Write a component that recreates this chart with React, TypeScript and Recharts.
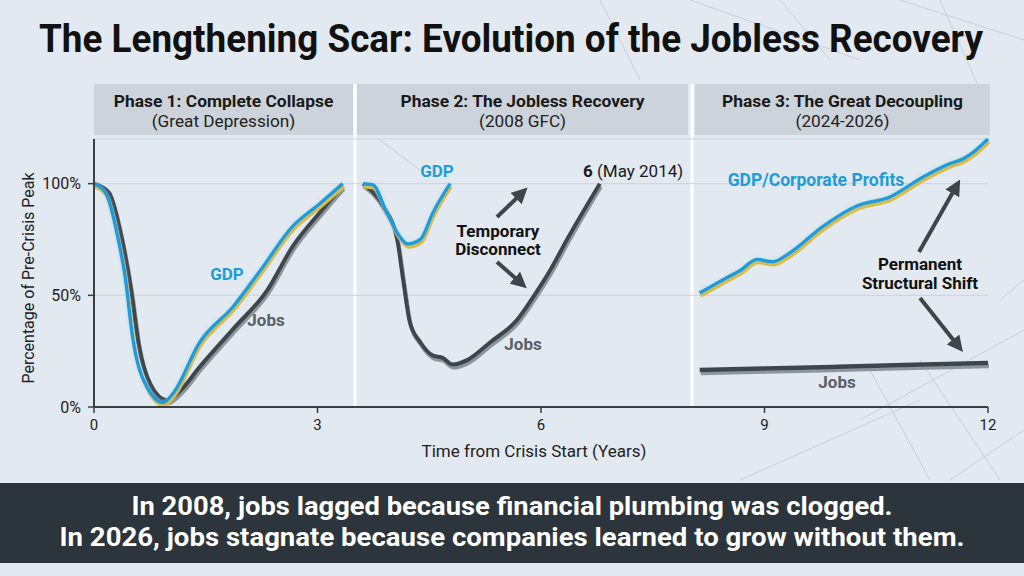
import React from "react";
import { LineChart, Line, XAxis, YAxis, CartesianGrid } from "recharts";

// axis ticks
const xTicks = [0, 3, 6, 9, 12];
const yTicks = [0, 50, 100];

// Phase 1: Great Depression (years from crisis start, % of pre-crisis peak)
const p1Gdp = [
  { x: 0, y: 100 }, { x: 0.17, y: 95 }, { x: 0.32, y: 76 }, { x: 0.42, y: 58 },
  { x: 0.52, y: 31 }, { x: 0.71, y: 9 }, { x: 0.93, y: 2 }, { x: 1.06, y: 6 },
  { x: 1.42, y: 29 }, { x: 1.87, y: 45 }, { x: 2.23, y: 61 }, { x: 2.67, y: 81 },
  { x: 3.03, y: 91 }, { x: 3.34, y: 100 },
];
const p1Jobs = [
  { x: 0, y: 100 }, { x: 0.2, y: 96 }, { x: 0.37, y: 76 }, { x: 0.5, y: 52 },
  { x: 0.6, y: 28 }, { x: 0.76, y: 10 }, { x: 0.98, y: 3 }, { x: 1.15, y: 7 },
  { x: 1.42, y: 18 }, { x: 1.87, y: 35 }, { x: 2.32, y: 52 }, { x: 2.67, y: 72 },
  { x: 3.03, y: 87 }, { x: 3.34, y: 99 },
];

// Phase 2: 2008 GFC
const p2Gdp = [
  { x: 3.61, y: 100 }, { x: 3.74, y: 99.5 }, { x: 3.93, y: 87 }, { x: 4.11, y: 76 },
  { x: 4.21, y: 73 }, { x: 4.38, y: 75 }, { x: 4.55, y: 87 }, { x: 4.78, y: 100 },
];
const p2Jobs = [
  { x: 3.61, y: 100 }, { x: 3.88, y: 90 }, { x: 4.07, y: 75 }, { x: 4.15, y: 57 },
  { x: 4.24, y: 38 }, { x: 4.38, y: 29 }, { x: 4.55, y: 23 }, { x: 4.68, y: 22 },
  { x: 4.81, y: 19 }, { x: 5.01, y: 21 }, { x: 5.32, y: 29 }, { x: 5.68, y: 39 },
  { x: 5.95, y: 52 }, { x: 6.12, y: 61 }, { x: 6.35, y: 75 }, { x: 6.79, y: 100 },
];

// Phase 3: 2024-2026
const p3Gdp = [
  { x: 8.13, y: 51 }, { x: 8.5, y: 58 }, { x: 8.67, y: 61 }, { x: 8.9, y: 66 },
  { x: 9.11, y: 65 }, { x: 9.34, y: 69 }, { x: 9.79, y: 81 }, { x: 10.24, y: 90 },
  { x: 10.68, y: 94 }, { x: 11.13, y: 103 }, { x: 11.49, y: 109 }, { x: 11.66, y: 111 },
  { x: 11.8, y: 114 }, { x: 12, y: 120 },
];
const p3Jobs = [
  { x: 8.13, y: 16.6 }, { x: 9, y: 17.2 }, { x: 10, y: 18 }, { x: 11, y: 18.9 }, { x: 12, y: 19.7 },
];

const phases = [
  { title: "Phase 1: Complete Collapse", sub: "(Great Depression)", x: 94, w: 259 },
  { title: "Phase 2: The Jobless Recovery", sub: "(2008 GFC)", x: 357, w: 331 },
  { title: "Phase 3: The Great Decoupling", sub: "(2024-2026)", x: 695, w: 295 },
];

const BLUE = "#1E9CD8";
const DARK = "#3E464C";
const FONT = "Roboto, 'Noto Sans', sans-serif";

const decoLines = [
  [600, 0, 640, 80], [690, 0, 860, 60], [780, 0, 830, 60], [900, 0, 1024, 40],
  [940, 0, 980, 90], [1000, 300, 1024, 280], [860, 420, 1024, 330], [740, 480, 920, 400],
  [870, 370, 930, 480], [920, 360, 1000, 480], [950, 480, 1024, 430], [380, 140, 420, 170],
];

export default function App() {
  return (
    <div style={{ position: "absolute", left: 0, top: 0, width: 1024, height: 576, background: "#E2E9F0", fontFamily: FONT, overflow: "hidden" }}>
      <style>{`
        .fx-gdp { filter: url(#gdpFx); }
        .fx-jobs { filter: url(#jobsFx); }
      `}</style>
      {/* background, title, panel headers */}
      <svg width={1024} height={576} style={{ position: "absolute", left: 0, top: 0 }}>
        <defs>
          <filter id="gdpFx" filterUnits="userSpaceOnUse" x={0} y={0} width={1024} height={576}>
            <feFlood floodColor="#D6BC48" result="yel" />
            <feComposite in="yel" in2="SourceAlpha" operator="in" result="yelShape" />
            <feOffset in="yelShape" dx={1} dy={3} result="yelOff" />
            <feGaussianBlur in="SourceAlpha" stdDeviation={1.6} result="blur" />
            <feFlood floodColor="#8AD6F4" floodOpacity={0.7} result="glowColor" />
            <feComposite in="glowColor" in2="blur" operator="in" result="glow" />
            <feMerge>
              <feMergeNode in="glow" />
              <feMergeNode in="yelOff" />
              <feMergeNode in="SourceGraphic" />
            </feMerge>
          </filter>
          <filter id="jobsFx" filterUnits="userSpaceOnUse" x={0} y={0} width={1024} height={576}>
            <feFlood floodColor="#8D969C" result="g" />
            <feComposite in="g" in2="SourceAlpha" operator="in" result="gShape" />
            <feOffset in="gShape" dx={1} dy={3} result="gOff" />
            <feMerge>
              <feMergeNode in="gOff" />
              <feMergeNode in="SourceGraphic" />
            </feMerge>
          </filter>
          <marker id="arrowHead" viewBox="0 0 10 10" refX={6} refY={5} markerWidth={4} markerHeight={4} orient="auto">
            <path d="M0,0 L10,5 L0,10 z" fill={DARK} />
          </marker>
        </defs>
        {decoLines.map((l, i) => (
          <line key={i} x1={l[0]} y1={l[1]} x2={l[2]} y2={l[3]} stroke="#C6D0D9" strokeWidth={1} />
        ))}
        <text x={511} y={52} textAnchor="middle" fontSize={38} fontWeight={700} fill="#111" textLength={944} lengthAdjust="spacingAndGlyphs">
          The Lengthening Scar: Evolution of the Jobless Recovery
        </text>
        {phases.map((p) => (
          <g key={p.title}>
            <rect x={p.x} y={84} width={p.w} height={51} fill="#CCD3DA" />
            <text x={p.x + p.w / 2} y={107} textAnchor="middle" fontSize={17.4} fontWeight={700} fill="#1A1A1A">{p.title}</text>
            <text x={p.x + p.w / 2} y={127} textAnchor="middle" fontSize={17.2} fill="#222">{p.sub}</text>
          </g>
        ))}
        <rect x={353.5} y={84} width={3} height={322} fill="#FFFFFF" />
        <rect x={690.5} y={84} width={3} height={322} fill="#FFFFFF" />
      </svg>

      <div style={{ position: "absolute", left: 0, top: 0 }}>
        <LineChart width={1024} height={576} margin={{ top: 139, right: 36, left: 34, bottom: 129 }}>
          <CartesianGrid vertical={false} stroke="#CBD4DC" />
          <XAxis
            dataKey="x"
            type="number"
            domain={[0, 12]}
            ticks={xTicks}
            height={40}
            tick={{ fontSize: 15, fill: "#222", fontFamily: FONT }}
            tickSize={6}
            tickMargin={6}
            axisLine={{ stroke: "#3A3F44", strokeWidth: 2 }}
            tickLine={{ stroke: "#3A3F44", strokeWidth: 1.5 }}
          />
          <YAxis
            type="number"
            domain={[0, 120]}
            ticks={yTicks}
            width={60}
            tickFormatter={(v: number) => `${v}%`}
            tick={{ fontSize: 16, fill: "#222", fontFamily: FONT }}
            tickSize={6}
            tickMargin={7}
            axisLine={{ stroke: "#3A3F44", strokeWidth: 2 }}
            tickLine={{ stroke: "#3A3F44", strokeWidth: 1.5 }}
          />
          <Line className="fx-jobs" data={p1Jobs} dataKey="y" type="monotone" stroke={DARK} strokeWidth={4} dot={false} activeDot={false} isAnimationActive={false} />
          <Line className="fx-gdp" data={p1Gdp} dataKey="y" type="monotone" stroke={BLUE} strokeWidth={3.5} dot={false} activeDot={false} isAnimationActive={false} />
          <Line className="fx-jobs" data={p2Jobs} dataKey="y" type="monotone" stroke={DARK} strokeWidth={4} dot={false} activeDot={false} isAnimationActive={false} />
          <Line className="fx-gdp" data={p2Gdp} dataKey="y" type="monotone" stroke={BLUE} strokeWidth={3.5} dot={false} activeDot={false} isAnimationActive={false} />
          <Line className="fx-jobs" data={p3Jobs} dataKey="y" type="monotone" stroke={DARK} strokeWidth={4.5} dot={false} activeDot={false} isAnimationActive={false} />
          <Line className="fx-gdp" data={p3Gdp} dataKey="y" type="monotone" stroke={BLUE} strokeWidth={3.5} dot={false} activeDot={false} isAnimationActive={false} />
        </LineChart>
      </div>

      {/* annotations, axis titles, bottom banner */}
      <svg width={1024} height={576} style={{ position: "absolute", left: 0, top: 0, pointerEvents: "none" }}>
        <text transform="translate(34,278) rotate(-90)" textAnchor="middle" fontSize={16} fill="#222">Percentage of Pre-Crisis Peak</text>
        <text x={534} y={457} textAnchor="middle" fontSize={17} fill="#222">Time from Crisis Start (Years)</text>

        <text x={227} y={280} textAnchor="middle" fontSize={17} fontWeight={700} fill={BLUE}>GDP</text>
        <text x={266} y={326} textAnchor="middle" fontSize={17} fontWeight={700} fill="#596067">Jobs</text>

        <text x={437} y={177} textAnchor="middle" fontSize={17} fontWeight={700} fill={BLUE}>GDP</text>
        <text x={583} y={177} fontSize={17} fill="#1A1A1A"><tspan fontWeight={700}>6</tspan> (May 2014)</text>
        <text x={498} y={237} textAnchor="middle" fontSize={17} fontWeight={700} fill="#111">Temporary</text>
        <text x={498} y={255} textAnchor="middle" fontSize={17} fontWeight={700} fill="#111">Disconnect</text>
        <line x1={497} y1={217} x2={523} y2={192} stroke={DARK} strokeWidth={4} markerEnd="url(#arrowHead)" />
        <line x1={497} y1={262} x2={522} y2={284} stroke={DARK} strokeWidth={4} markerEnd="url(#arrowHead)" />
        <text x={523} y={350} textAnchor="middle" fontSize={17} fontWeight={700} fill="#596067">Jobs</text>

        <text x={816} y={186} textAnchor="middle" fontSize={17.5} fontWeight={700} fill={BLUE}>GDP/Corporate Profits</text>
        <text x={920} y={270} textAnchor="middle" fontSize={17} fontWeight={700} fill="#111">Permanent</text>
        <text x={920} y={289} textAnchor="middle" fontSize={17} fontWeight={700} fill="#111">Structural Shift</text>
        <line x1={919} y1={252} x2={957} y2={185} stroke={DARK} strokeWidth={4} markerEnd="url(#arrowHead)" />
        <line x1={920} y1={298} x2={959} y2={347} stroke={DARK} strokeWidth={4} markerEnd="url(#arrowHead)" />
        <text x={837} y={388} textAnchor="middle" fontSize={17} fontWeight={700} fill="#596067">Jobs</text>

        <rect x={0} y={483} width={1024} height={80} fill="#2B353B" />
        <text x={512} y={515} textAnchor="middle" fontSize={25} fontWeight={700} fill="#FFFFFF" textLength={761} lengthAdjust="spacingAndGlyphs">
          In 2008, jobs lagged because financial plumbing was clogged.
        </text>
        <text x={512} y={546} textAnchor="middle" fontSize={25} fontWeight={700} fill="#FFFFFF" textLength={905} lengthAdjust="spacingAndGlyphs">
          In 2026, jobs stagnate because companies learned to grow without them.
        </text>
      </svg>
    </div>
  );
}
